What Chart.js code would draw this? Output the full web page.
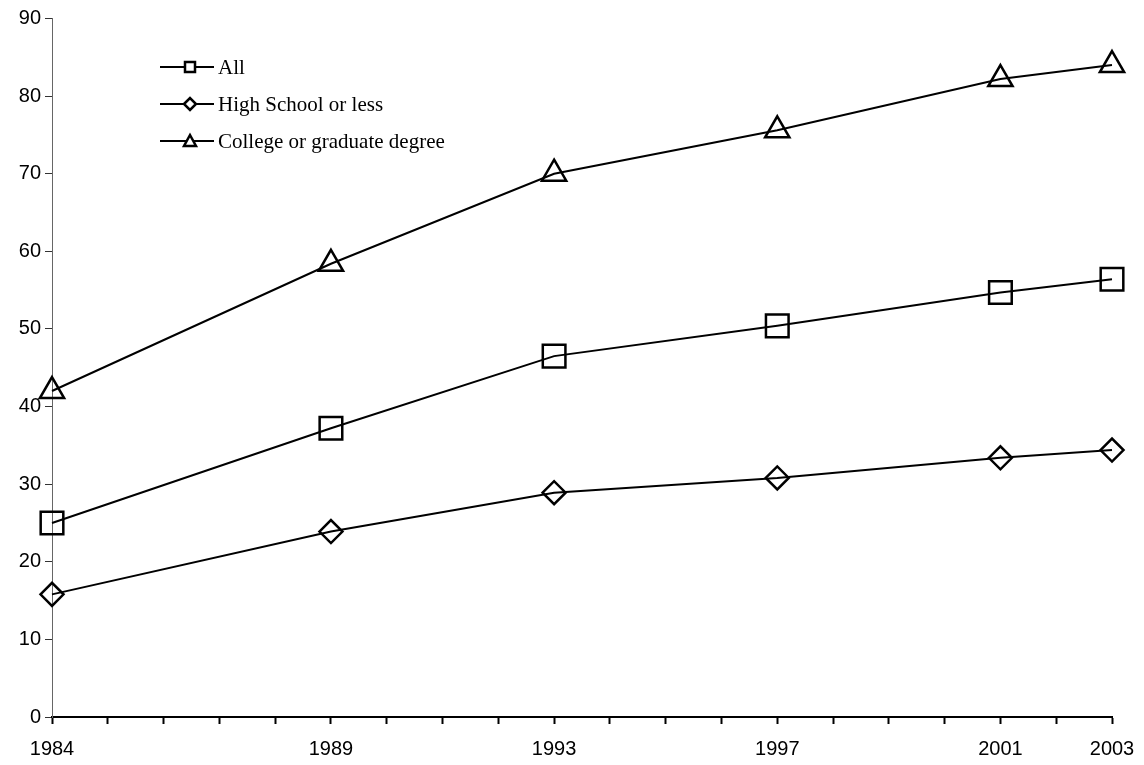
<!DOCTYPE html>
<html>
<head>
<meta charset="utf-8">
<script src="https://cdn.jsdelivr.net/npm/chart.js@4.4.1/dist/chart.umd.min.js"></script>
<style>
  html,body{margin:0;padding:0;background:#fff;}
  #wrap{width:1144px;height:765px;}
</style>
</head>
<body>
<div id="wrap"><canvas id="myChart" width="1144" height="765"></canvas></div>
<script>
let years=[1984,1989,1993,1997,2001,2003];
let allVals=[25.0,37.2,46.5,50.4,54.7,56.4];
let hsVals=[15.8,23.9,28.9,30.8,33.4,34.4];
let collegeVals=[42.0,58.4,70.0,75.6,82.2,84.0];
let seriesNames=["All","High School or less","College or graduate degree"];

let toPoints=(vals)=>vals.map((v,i)=>({x:years[i],y:v}));

// legend drawn inside the plot area, like the original
let innerLegend={
    id:"innerLegend",
    afterDraw(chart){
        let ctx=chart.ctx;
        ctx.save();
        ctx.strokeStyle="#000";
        ctx.lineWidth=2;
        ctx.fillStyle="#000";
        ctx.font='21px "Liberation Serif", "Times New Roman", serif';
        ctx.textBaseline="middle";
        let rows=[67,104,141];
        let styles=["square","diamond","triangle"];
        rows.forEach((y,i)=>{
            ctx.beginPath();
            ctx.moveTo(160,y);
            ctx.lineTo(214,y);
            ctx.stroke();
            let cx=190;
            ctx.lineWidth=2.5;
            ctx.beginPath();
            if(styles[i]=="square"){
                ctx.rect(cx-5,y-5,10,10);
            }else if(styles[i]=="diamond"){
                ctx.moveTo(cx-6,y);ctx.lineTo(cx,y-6);ctx.lineTo(cx+6,y);ctx.lineTo(cx,y+6);ctx.closePath();
            }else{
                ctx.moveTo(cx,y-6);ctx.lineTo(cx+6,y+5);ctx.lineTo(cx-6,y+5);ctx.closePath();
            }
            ctx.fillStyle="#fff";
            ctx.fill();
            ctx.stroke();
            ctx.lineWidth=2;
            ctx.fillStyle="#000";
            ctx.fillText(seriesNames[i],218,y+1);
        });
        ctx.restore();
    }
};

var ctx=document.getElementById('myChart').getContext('2d');
new Chart(ctx,{
    type:'line',
    data:{
        datasets:[
            {label:seriesNames[0],data:toPoints(allVals),pointStyle:'rect',pointRadius:16,pointHoverRadius:16},
            {label:seriesNames[1],data:toPoints(hsVals),pointStyle:'rectRot',pointRadius:11.5,pointHoverRadius:11.5},
            {label:seriesNames[2],data:toPoints(collegeVals),pointStyle:'triangle',pointRadius:14,pointHoverRadius:14}
        ].map(d=>Object.assign(d,{
            borderColor:'#000',
            borderWidth:2,
            pointBorderColor:'#000',
            pointBorderWidth:2.5,
            pointBackgroundColor:'rgba(0,0,0,0)',
            fill:false,
            tension:0,
            clip:false
        }))
    },
    options:{
        responsive:false,
        animation:false,
        layout:{padding:{top:16,right:32,left:0,bottom:0}},
        plugins:{legend:{display:false},tooltip:{enabled:false}},
        scales:{
            x:{
                type:'linear',
                min:1984,
                max:2003,
                afterFit:(s)=>{s.height=48;},
                grid:{drawOnChartArea:false,drawTicks:true,tickLength:7,color:'#000',tickWidth:2},
                border:{color:'#000',width:2},
                ticks:{
                    stepSize:1,
                    autoSkip:false,
                    maxRotation:0,
                    padding:6,
                    color:'#000',
                    font:{family:'"Liberation Sans", Arial, sans-serif',size:20,lineHeight:1.9},
                    callback:(v)=>years.includes(v)?String(v):''
                }
            },
            y:{
                min:0,
                max:90,
                afterFit:(s)=>{s.width=52;},
                grid:{drawOnChartArea:false,drawTicks:true,tickLength:7,color:'#333',tickWidth:1},
                border:{color:'#666',width:1},
                ticks:{
                    stepSize:10,
                    padding:4,
                    color:'#000',
                    font:{family:'"Liberation Sans", Arial, sans-serif',size:20}
                }
            }
        }
    },
    plugins:[innerLegend]
});
</script>
</body>
</html>
